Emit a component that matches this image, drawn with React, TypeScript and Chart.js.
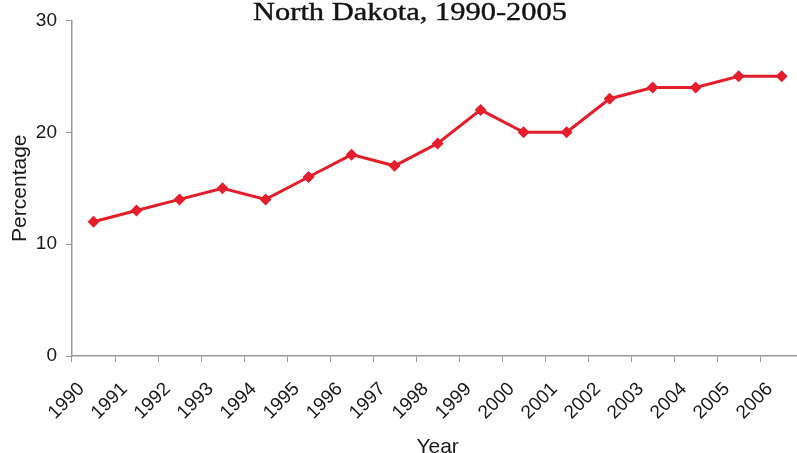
import React, { useEffect, useRef } from "react";
import { Chart, registerables } from "chart.js";

Chart.register(...registerables);

const TITLE = "North Dakota, 1990-2005";
const years = ["1990","1991","1992","1993","1994","1995","1996","1997","1998","1999","2000","2001","2002","2003","2004","2005","2006"];
const percentage = [12, 13, 14, 15, 14, 16, 18, 17, 19, 22, 20, 20, 23, 24, 24, 25, 25];
const yTicks = [0, 10, 20, 30];

const CW = 814;
const CH = 458;

const titlePlugin = {
  id: "topTitle",
  afterDraw(chart: any) {
    const ctx = chart.ctx;
    ctx.save();
    ctx.font = '25px "Liberation Serif"';
    const w = ctx.measureText(TITLE).width;
    const target = 314;
    ctx.translate(410, 20);
    ctx.scale(target / w, 1);
    ctx.textAlign = "center";
    ctx.textBaseline = "alphabetic";
    ctx.fillStyle = "#141414";
    ctx.lineWidth = 0.4;
    ctx.strokeStyle = "#141414";
    ctx.fillText(TITLE, 0, 0);
    ctx.strokeText(TITLE, 0, 0);
    ctx.restore();
  },
};

export default function App() {
  const ref = useRef<HTMLCanvasElement | null>(null);
  useEffect(() => {
    if (!ref.current) return;
    const axisColor = "#9a9a9a";
    const chart = new Chart(ref.current, {
      type: "line",
      data: {
        labels: years,
        datasets: [
          {
            data: percentage,
            borderColor: "#e41e2b",
            backgroundColor: "#e41e2b",
            borderWidth: 3,
            pointStyle: "rectRot",
            pointRadius: 6,
            pointBorderWidth: 0,
            pointBackgroundColor: "#e41e2b",
            tension: 0,
          },
        ],
      },
      options: {
        responsive: false,
        animation: false,
        layout: { padding: { top: 19, right: 0, left: 0, bottom: 0 } },
        plugins: { legend: { display: false }, tooltip: { enabled: false } },
        scales: {
          x: {
            offset: true,
            afterFit: (s: any) => { s.height = CH - 356; },
            grid: { offset: true, drawOnChartArea: false, drawTicks: true, tickLength: 6, color: axisColor },
            border: { color: axisColor, width: 1.5 },
            ticks: {
              minRotation: 45,
              maxRotation: 45,
              autoSkip: false,
              labelOffset: -12,
              padding: 16,
              color: "#1a1a1a",
              font: { family: "Liberation Sans", size: 19 },
            },
            title: {
              display: true,
              text: "Year",
              color: "#1a1a1a",
              font: { family: "Liberation Sans", size: 21, lineHeight: 1 },
              padding: 0,
            },
          },
          y: {
            min: 0,
            max: 30,
            afterFit: (s: any) => { s.width = 72; },
            afterBuildTicks: (s: any) => { s.ticks = yTicks.map((v) => ({ value: v })); },
            grid: { drawOnChartArea: false, drawTicks: true, tickLength: 6, color: axisColor },
            border: { color: axisColor, width: 1.5 },
            ticks: {
              padding: 9,
              color: "#1a1a1a",
              font: { family: "Liberation Sans", size: 19 },
            },
            title: {
              display: true,
              text: "Percentage",
              color: "#1a1a1a",
              font: { family: "Liberation Sans", size: 21, lineHeight: 1.2 },
              padding: { top: 8, bottom: 0 },
            },
          },
        },
      },
      plugins: [titlePlugin],
    });
    return () => chart.destroy();
  }, []);
  return (
    <div style={{ position: "fixed", left: 0, top: 0, width: 797, height: 453, overflow: "hidden", background: "#fff" }}>
      <canvas ref={ref} width={CW} height={CH} style={{ width: CW, height: CH, display: "block" }} />
    </div>
  );
}
